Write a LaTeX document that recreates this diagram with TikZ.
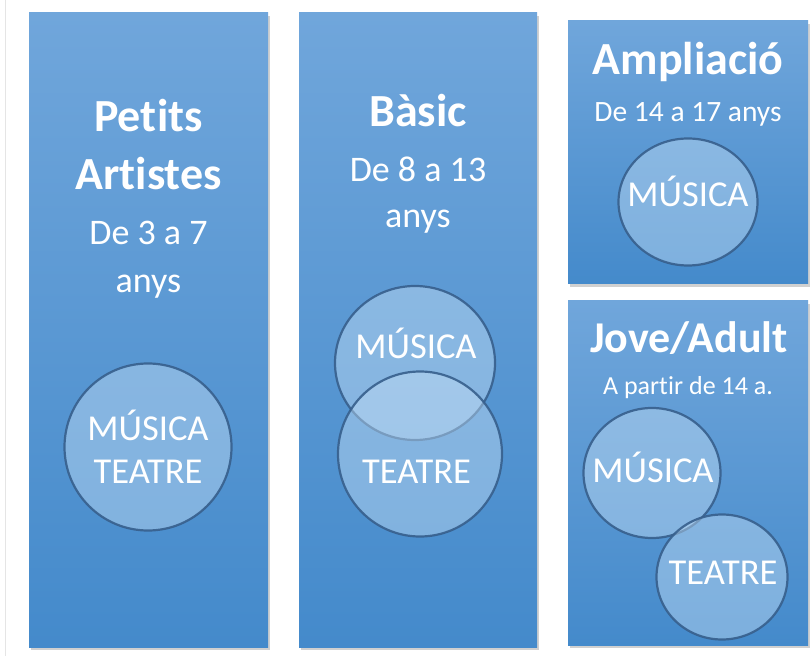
\documentclass[tikz,border=0pt]{standalone}
\usepackage{fontspec}
\setmainfont{Carlito}[Ligatures={NoCommon,NoContextual,NoRare},Contextuals=NoAlternate,RawFeature={-liga;-clig;-dlig;-calt}]
\usetikzlibrary{shapes.geometric,shadows}
\definecolor{paneltop}{RGB}{112,166,219}
\definecolor{panelbot}{RGB}{68,138,203}
\definecolor{circfill}{RGB}{195,222,245}
\definecolor{circline}{RGB}{55,95,140}
\tikzset{
  panel/.style={draw=none, top color=paneltop, bottom color=panelbot,
    drop shadow={shadow xshift=2pt, shadow yshift=-3pt, opacity=0.3, fill=black!60}},
  bubble/.style={ellipse, draw=circline, line width=2.2pt, fill=circfill, fill opacity=0.45, draw opacity=0.9, inner sep=0pt},
  titletxt/.style={text=white, anchor=base, inner sep=0pt, font=\fontsize{46}{46}\selectfont\bfseries},
  subtxt/.style={text=white, anchor=base, inner sep=0pt, font=\fontsize{36}{36}\selectfont},
  bubtxt/.style={text=white, anchor=base, inner sep=0pt, font=\fontsize{36.5}{36.5}\selectfont},
}
\begin{document}
\begin{tikzpicture}[x=1pt,y=1pt]
\useasboundingbox (0,0) rectangle (810,656);
\fill[white] (0,0) rectangle (810,656);
\draw[black!10, line width=0.8pt] (5,0) -- (5,656);
% panels
\path[panel] (29,9) rectangle (268,643);
\path[panel] (299,9) rectangle (537,643);
\path[panel] (568,372) rectangle (808,635);
\path[panel] (568,11) rectangle (808,355);
% panel 1
\node[titletxt] (t1a) at (148.5,524) {Pet\kern0.5pt its};
\node[titletxt] (t1b) at (148.5,466) {Art\kern0.5pt istes};
\node[subtxt] (s1a) at (148.5,411) {De 3 a 7};
\node[subtxt] (s1b) at (148.5,363) {anys};
\node[bubble, minimum width=167pt, minimum height=167pt] (c1) at (148,209) {};
\node[bubtxt] (c1m) at (148,215) {MÚSICA};
\node[bubtxt] (c1t) at (148,173) {TEATRE};
% panel 2
\node[titletxt] (t2) at (418,529) {Bàsic};
\node[subtxt] (s2a) at (418,474) {De 8 a 13};
\node[subtxt] (s2b) at (418,428) {anys};
\node[bubble, minimum width=160pt, minimum height=154pt] (c2m) at (415,293) {};
\node[bubble, minimum width=164pt, minimum height=165pt] (c2t) at (420,202) {};
\node[bubtxt] (c2mt) at (416,297) {MÚSICA};
\node[bubtxt] (c2tt) at (416.5,173) {TEATRE};
% panel 3
\node[titletxt] (t3) at (688,581) {Ampliació};
\node[text=white, anchor=base, inner sep=0pt, font=\fontsize{29.5}{29.5}\selectfont] (s3) at (688,534) {De 14 a 17 anys};
\node[bubble, minimum width=139pt, minimum height=127pt] (c3) at (688,454) {};
\node[bubtxt] (c3m) at (688,449) {MÚSICA};
% panel 4
\node[titletxt, font=\fontsize{44}{44}\selectfont\bfseries] (t4) at (689,303) {Jove/Adult};
\node[text=white, anchor=base, inner sep=0pt, font=\fontsize{26}{26}\selectfont] (s4) at (688,261) {A part\kern0.3pt ir de 14 a.};
\node[bubble, minimum width=137pt, minimum height=130pt] (c4m) at (652,183) {};
\node[bubble, minimum width=131pt, minimum height=125pt] (c4t) at (722,79) {};
\node[bubtxt] (c4mt) at (653,174) {MÚSICA};
\node[bubtxt] (c4tt) at (723,72) {TEATRE};
\end{tikzpicture}
\end{document}
